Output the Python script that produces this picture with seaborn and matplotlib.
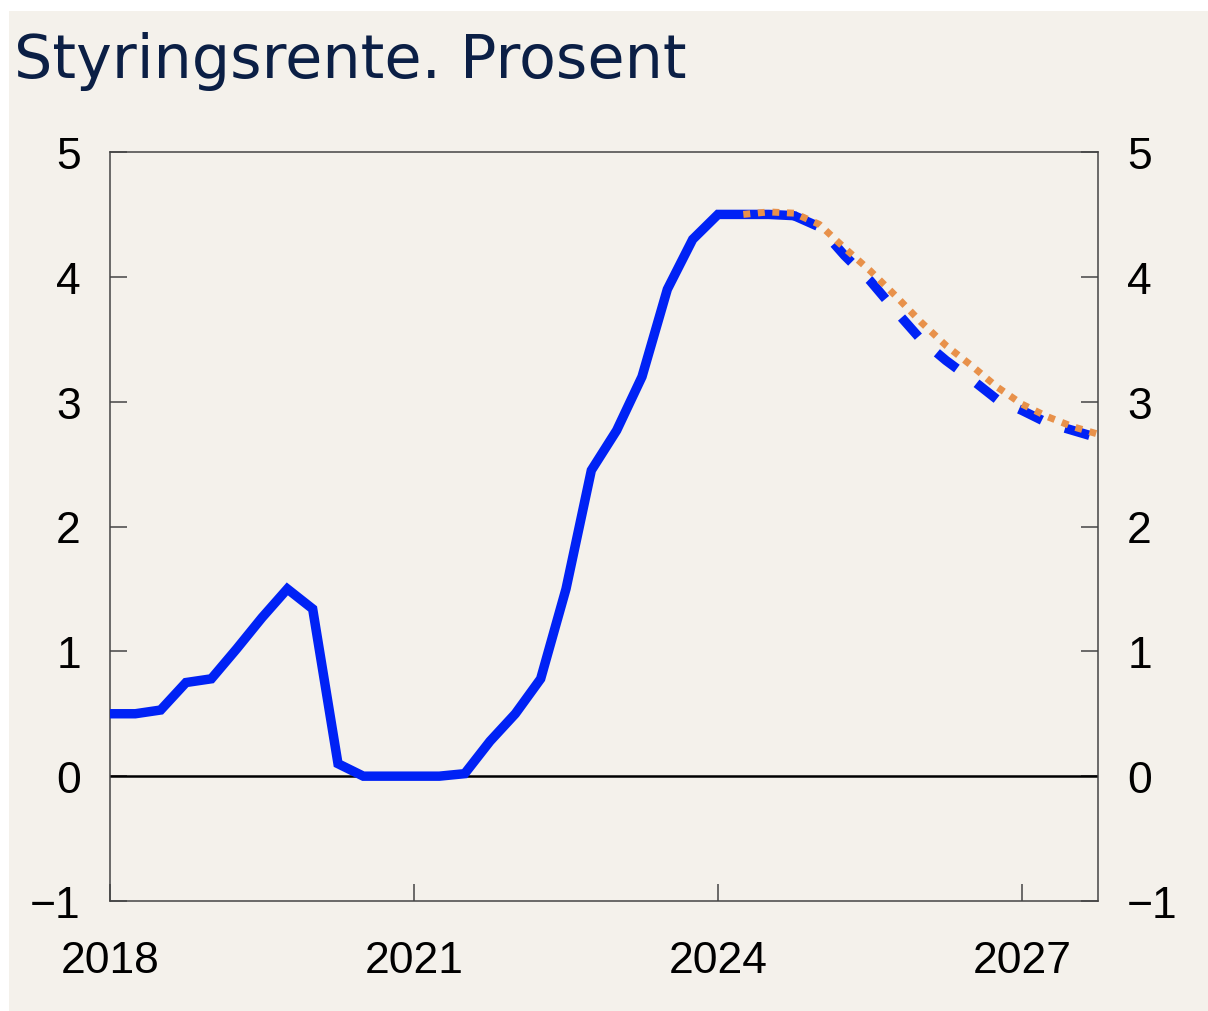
import pandas as pd
import matplotlib.pyplot as plt
import matplotlib.patches as mpatches
import seaborn as sns

# Quarterly policy rate, 2018Q1 - 2024Q4 (history)
hist_rate = [0.50, 0.50, 0.53, 0.75,
             0.78, 1.02, 1.27, 1.50,
             1.34, 0.10, 0.00, 0.00,
             0.00, 0.00, 0.02, 0.28,
             0.50, 0.78, 1.50, 2.45,
             2.77, 3.20, 3.90, 4.30,
             4.50, 4.50, 4.50, 4.49]

# Current forecast (blue dashed), 2024Q4 - 2027Q4
fc_rate = [4.49,
           4.40, 4.17, 3.97, 3.73,
           3.50, 3.33, 3.18, 3.02,
           2.93, 2.83, 2.77, 2.71]

# Previous forecast (orange dotted), 2024Q2 - 2027Q4
prev_rate = [4.50, 4.52, 4.51,
             4.42, 4.23, 4.05, 3.85,
             3.64, 3.45, 3.29, 3.12,
             2.98, 2.88, 2.80, 2.74]

x_ticks = [2018, 2021, 2024, 2027]
y_ticks = [-1, 0, 1, 2, 3, 4, 5]
y_labels = ['\u22121', '0', '1', '2', '3', '4', '5']


def quarters(start_year, start_q, n):
    return [start_year + (start_q - 1 + i) / 4 for i in range(n)]


hist = pd.DataFrame({'date': quarters(2018, 1, len(hist_rate)), 'rate': hist_rate})
fc = pd.DataFrame({'date': quarters(2024, 4, len(fc_rate)), 'rate': fc_rate})
prev = pd.DataFrame({'date': quarters(2024, 2, len(prev_rate)), 'rate': prev_rate})

bg = '#f4f1eb'
blue = '#0022f5'
orange = '#e8914a'

sns.set_style('ticks')
plt.rcParams['font.family'] = ['Liberation Sans', 'DejaVu Sans']

fig = plt.figure(figsize=(12.08, 10.12), dpi=100, facecolor='white')
fig.patches.append(mpatches.Rectangle((9 / 1208, 0), 1, 1 - 12 / 1012,
                                      transform=fig.transFigure, facecolor=bg,
                                      edgecolor='none', zorder=-1))
ax = fig.add_axes([110 / 1208, 1 - 902 / 1012, 988 / 1208, 749 / 1012])
ax.set_zorder(2)
ax.set_facecolor(bg)

ax.axhline(0, color='black', lw=1.8, zorder=1)

sns.lineplot(data=hist, x='date', y='rate', ax=ax, color=blue, lw=6.8,
             solid_joinstyle='miter', zorder=3)
sns.lineplot(data=fc, x='date', y='rate', ax=ax, color=blue, lw=6.8, zorder=3)
ax.lines[-1].set_dashes((2.7, 2.6))
ax.lines[-1].set_dash_capstyle('butt')
sns.lineplot(data=prev, x='date', y='rate', ax=ax, color=orange, lw=5,
             zorder=4)
ax.lines[-1].set_dashes((1.0, 1.1))
ax.lines[-1].set_dash_capstyle('butt')

ax.set_xlim(2018, 2027.75)
ax.set_ylim(-1, 5)
ax.set_xticks(x_ticks)
ax.set_xticklabels([str(t) for t in x_ticks])
ax.set_yticks(y_ticks)
ax.set_yticklabels(y_labels)
ax.set_xlabel('')
ax.set_ylabel('')

for s in ax.spines.values():
    s.set_visible(True)
    s.set_color('#444444')
    s.set_linewidth(1.1)

ax.tick_params(axis='y', direction='in', length=12, width=1.1, color='#444444',
               left=True, right=True, labelleft=True, labelright=True,
               labelsize=32, pad=21, labelcolor='black')
ax.tick_params(axis='x', direction='in', length=12, width=1.1, color='#444444',
               labelsize=32, pad=28, labelcolor='black')

fig.text(14 / 1208, 1 - 78 / 1012, 'Styringsrente. Prosent', fontsize=43.5,
         color='#0b1f45', family=['DejaVu Sans'], ha='left', va='baseline')

fig.savefig('out.png', dpi=100, facecolor='white')
